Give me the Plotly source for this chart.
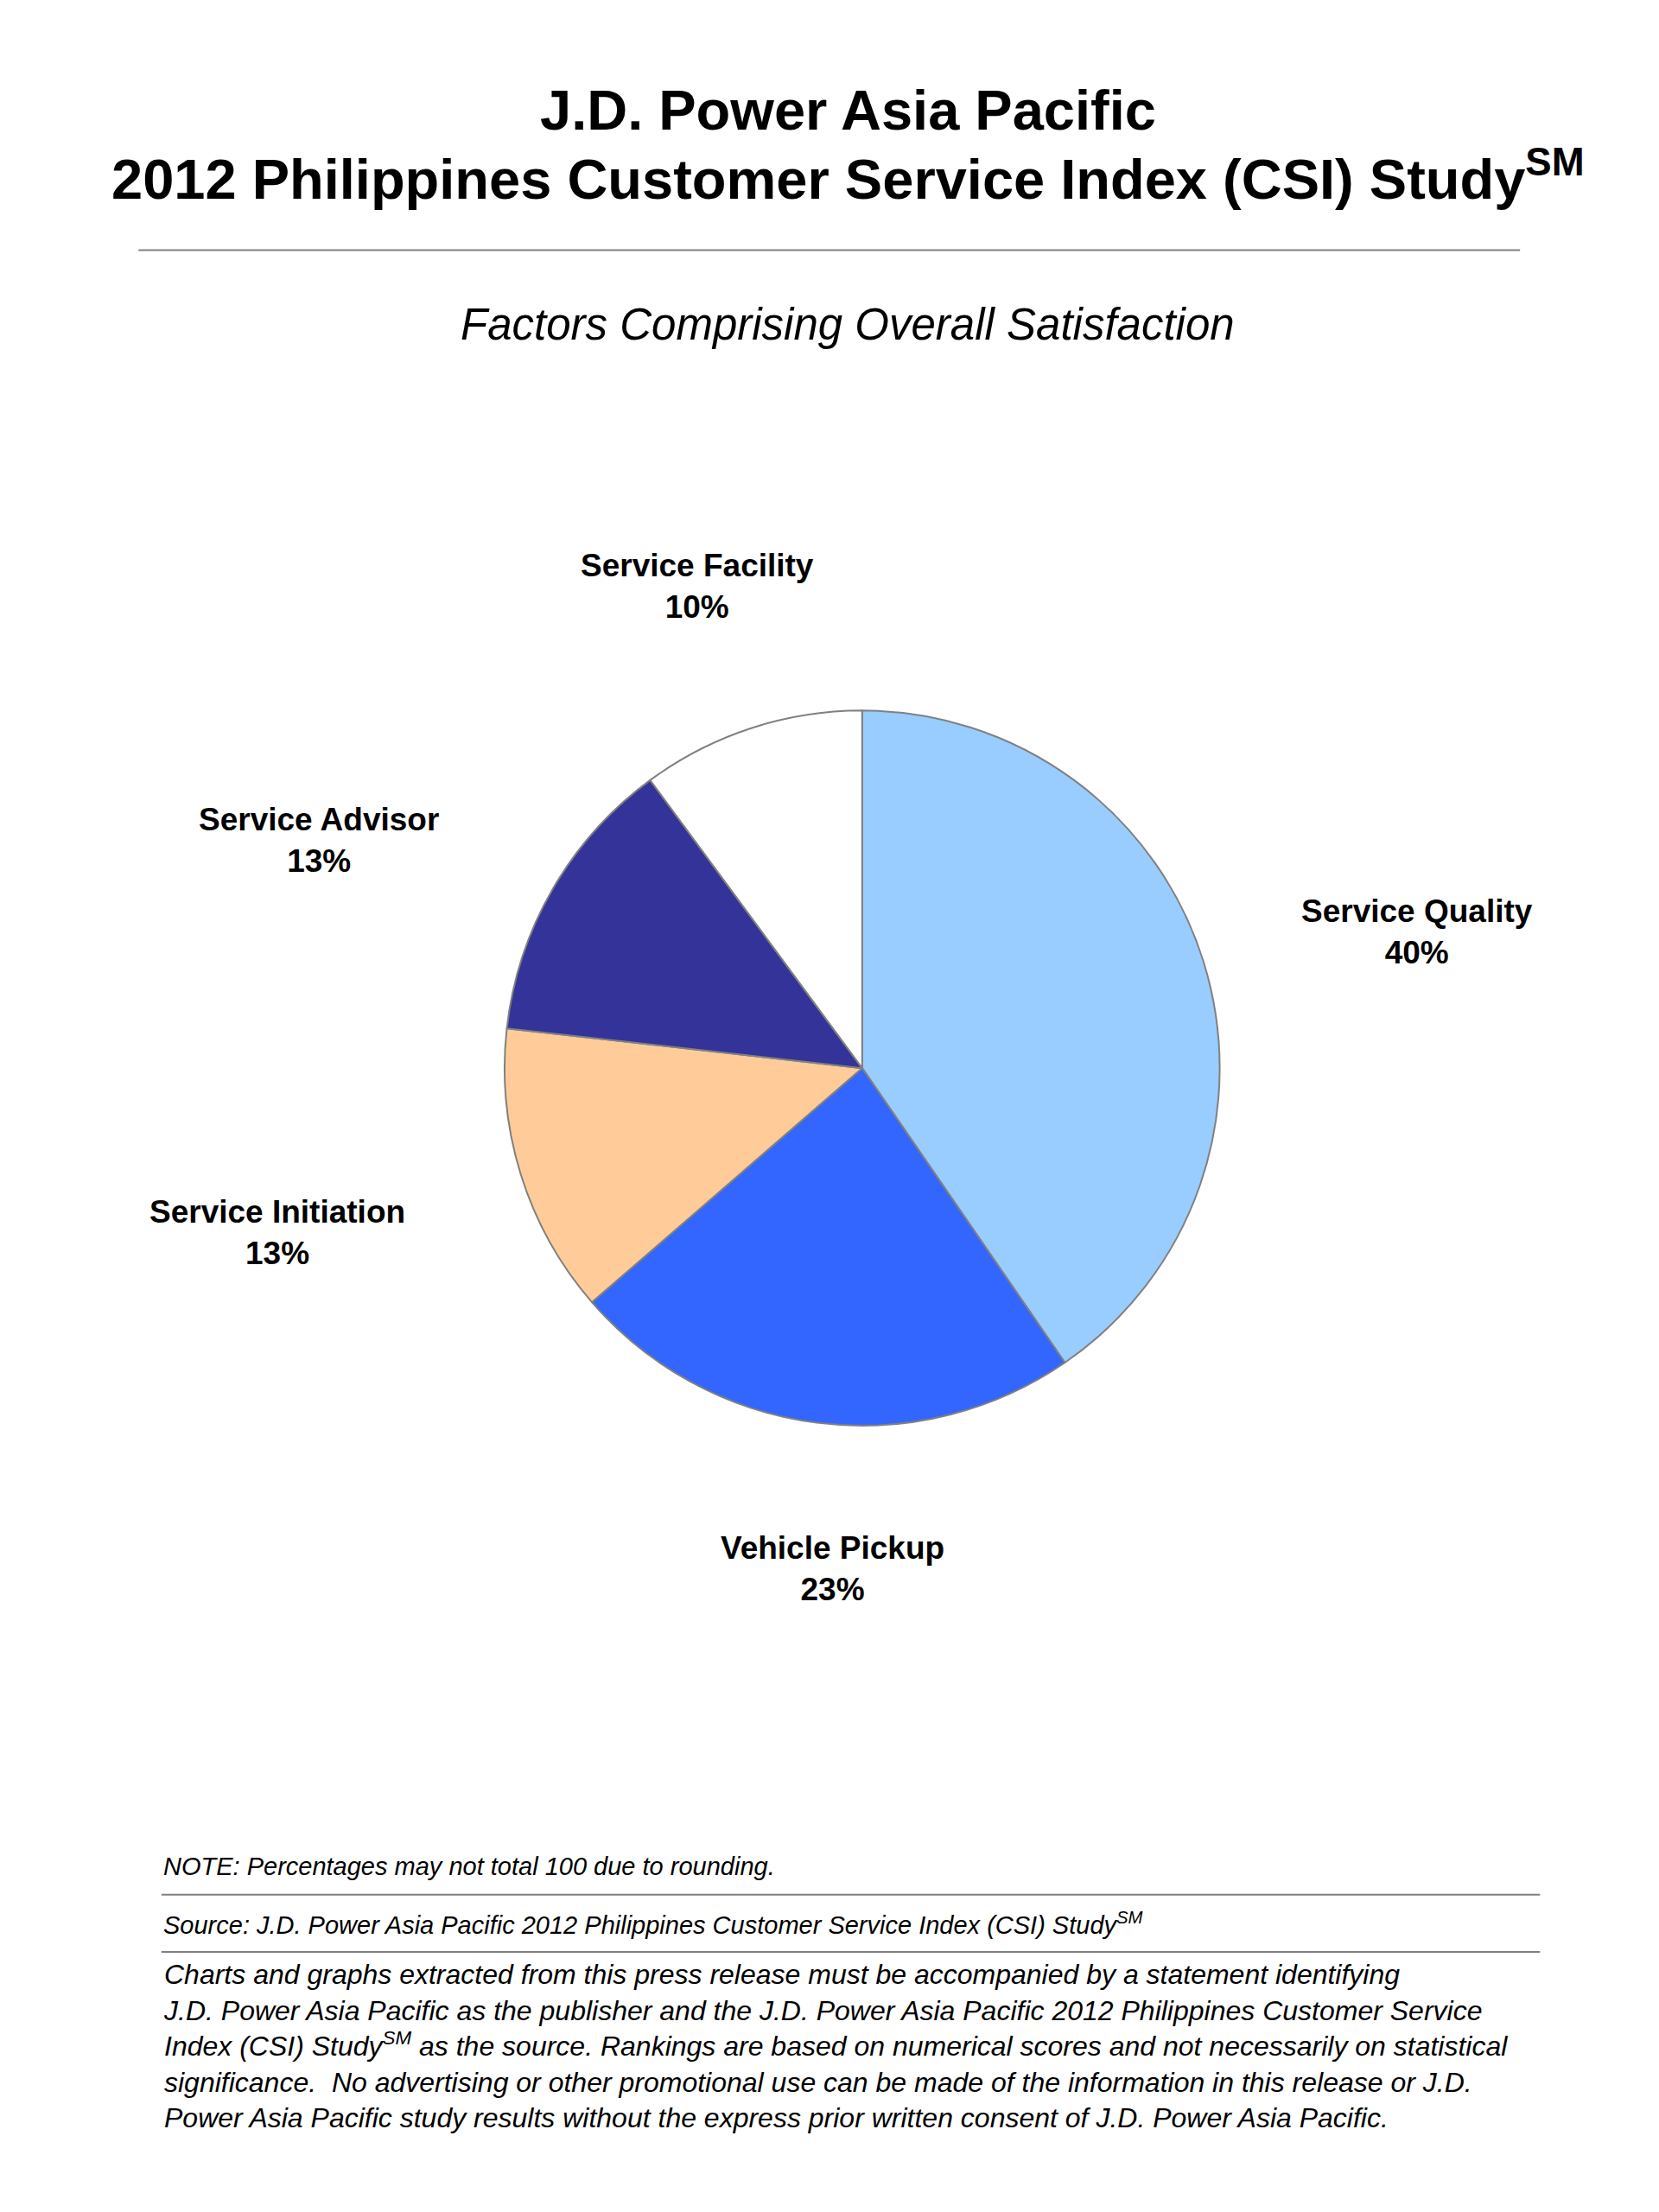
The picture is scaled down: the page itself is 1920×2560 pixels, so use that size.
import plotly.graph_objects as go

W, H = 1920, 2560
S = 1920 / 1160  # reference scale

factors = ["Service Quality", "Vehicle Pickup", "Service Initiation", "Service Advisor", "Service Facility"]
shares = [40, 23, 13, 13, 10]
colors = ["#99CCFF", "#3366FF", "#FFCC99", "#333399", "#FFFFFF"]
label_pos = [(986, 647), (577, 1092), (189, 857), (218, 583), (483, 405)]

FONT = "Liberation Sans, Arial, sans-serif"


def px(x, y):
    return x * S / W, 1 - y * S / H


cx, cy, r = 598, 742, 250
x0, y1 = px(cx - r, cy - r)
x1, y0 = px(cx + r, cy + r)

fig = go.Figure(go.Pie(
    labels=factors, values=shares, sort=False, direction="clockwise", rotation=0,
    marker=dict(colors=colors, line=dict(color="#808080", width=2)),
    textinfo="none", hoverinfo="label+percent", showlegend=False,
    domain=dict(x=[x0, x1], y=[y0, y1]),
))

ann = []


def text(x, y, t, size, xanchor="center", **kw):
    ax, ay = px(x, y)
    ann.append(dict(x=ax, y=ay, xref="paper", yref="paper", text=t, showarrow=False,
                    xanchor=xanchor, yanchor="middle", align=xanchor if xanchor != "center" else "center",
                    font=dict(family=FONT, size=size, color="black"), **kw))


for name, v, (lx, ly) in zip(factors, shares, label_pos):
    text(lx, ly, f"<b>{name}</b><br><b>{v}%</b>", 37)

text(588, 72, "<b>J.D. Power Asia Pacific</b>", 65)
text(588, 118, "<b>2012 Philippines Customer Service Index (CSI) Study<sup>SM</sup></b>", 65)
text(588, 222, "<i>Factors Comprising Overall Satisfaction</i>", 51)
text(108, 1300, "<i>NOTE: Percentages may not total 100 due to rounding.</i>", 29, xanchor="left")
text(108, 1340, "<i>Source: J.D. Power Asia Pacific 2012 Philippines Customer Service Index (CSI) Study<sup>SM</sup></i>", 29, xanchor="left")
para = ("<i>Charts and graphs extracted from this press release must be accompanied by a statement identifying<br>"
        "J.D. Power Asia Pacific as the publisher and the J.D. Power Asia Pacific 2012 Philippines Customer Service<br>"
        "Index (CSI) Study<sup>SM</sup> as the source. Rankings are based on numerical scores and not necessarily on statistical<br>"
        "significance.  No advertising or other promotional use can be made of the information in this release or J.D.<br>"
        "Power Asia Pacific study results without the express prior written consent of J.D. Power Asia Pacific.</i>")
text(108, 1426, para, 32, xanchor="left")

shapes = []
for (a, b, y) in [(92, 1058, 170), (108, 1072, 1320), (108, 1072, 1360)]:
    xa, ya = px(a, y)
    xb, _ = px(b, y)
    shapes.append(dict(type="line", xref="paper", yref="paper", x0=xa, x1=xb, y0=ya, y1=ya,
                       line=dict(color="#808080", width=2)))

fig.update_layout(width=W, height=H, margin=dict(l=0, r=0, t=0, b=0),
                  paper_bgcolor="white", plot_bgcolor="white",
                  annotations=ann, shapes=shapes)

fig.write_html("out.html")
